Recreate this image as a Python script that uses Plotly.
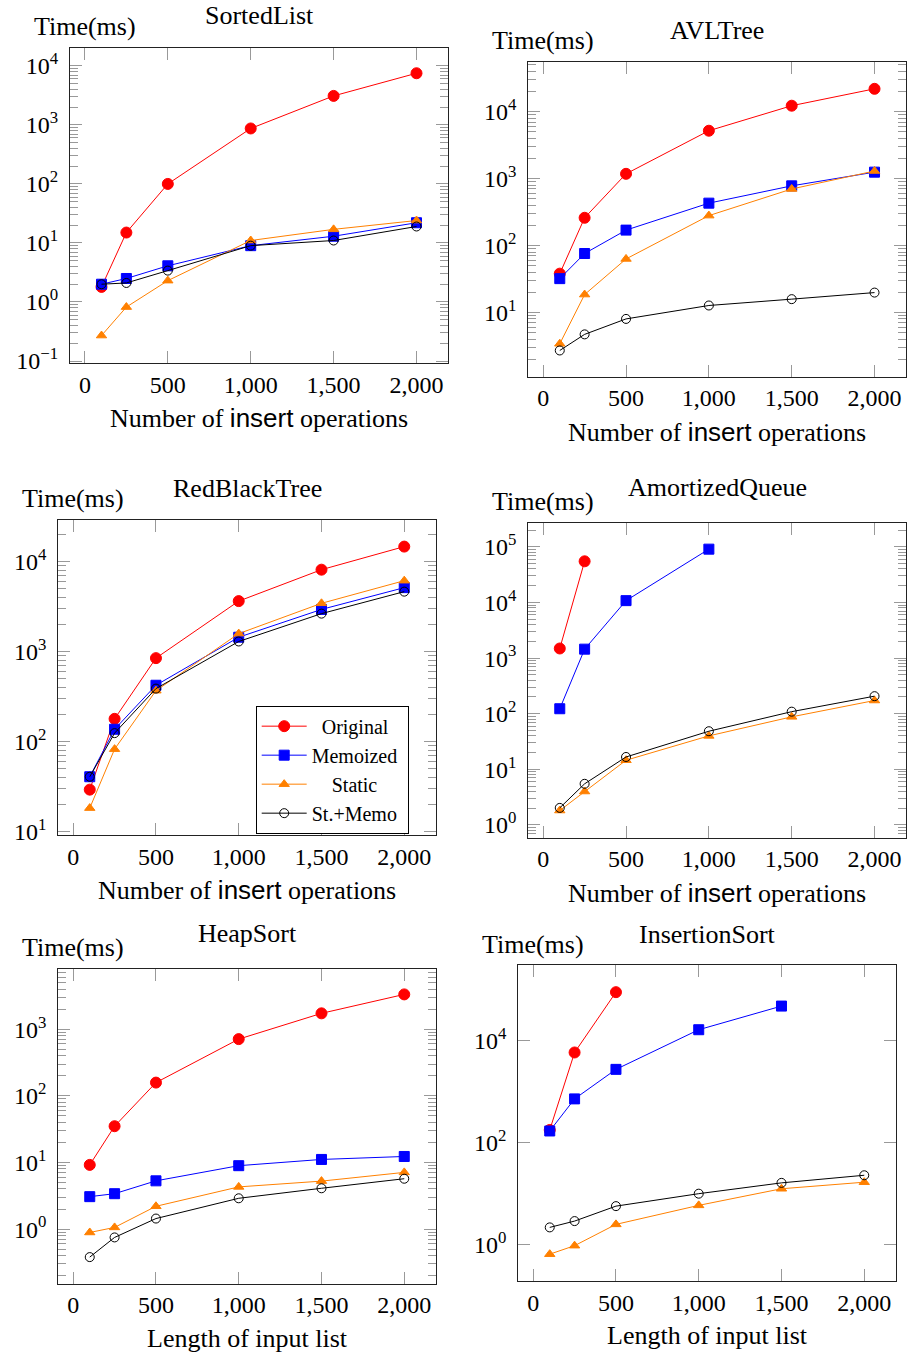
import math
import plotly.graph_objects as go

# ---------------- data ----------------
sizes = [100, 250, 500, 1000, 1500, 2000]
series_names = ["Original", "Memoized", "Static", "St.+Memo"]

# SortedList
sl_original = [1.8, 15, 100, 870, 3100, 7500]
sl_memoized = [2.0, 2.5, 4.1, 9.0, 13, 22]
sl_static = [0.27, 0.82, 2.3, 11, 17, 24]
sl_stmemo = [2.0, 2.1, 3.4, 9.0, 11, 19]

# AVLTree
avl_original = [38, 260, 1180, 5200, 12300, 22000]
avl_memoized = [32, 76, 170, 430, 780, 1250]
avl_static = [3.4, 18.5, 63, 280, 700, 1300]
avl_stmemo = [2.7, 4.7, 8.0, 12.7, 15.8, 19.8]

# RedBlackTree
rbt_original = [29.5, 180, 850, 3650, 8150, 14700]
rbt_memoized = [41, 138, 425, 1450, 2950, 5150]
rbt_static = [18.4, 83, 370, 1590, 3450, 6150]
rbt_stmemo = [41, 125, 390, 1300, 2650, 4650]

# AmortizedQueue
aq_original = [1490, 55000]
aq_memoized = [123, 1450, 10800, 91000]
aq_static = [1.82, 4.0, 14.6, 40, 88, 173]
aq_stmemo = [2.03, 5.5, 16.7, 48.5, 109, 207]

# HeapSort
hs_original = [9.2, 35, 158, 710, 1730, 3330]
hs_memoized = [3.07, 3.4, 5.3, 8.95, 11.1, 12.3]
hs_static = [0.89, 1.06, 2.2, 4.3, 5.25, 7.1]
hs_stmemo = [0.38, 0.75, 1.44, 2.9, 4.1, 5.7]

# InsertionSort
is_original = [178, 5900, 90000]
is_memoized = [170, 725, 2750, 16500, 48000]
is_static = [0.65, 0.955, 2.5, 5.9, 12.5, 16.8]
is_stmemo = [2.18, 2.9, 5.7, 10, 16.3, 23]

x_tickvals = [0, 500, 1000, 1500, 2000]
x_ticktext = ["0", "500", "1,000", "1,500", "2,000"]

# ---------------- styling ----------------
W, H = 907, 1364
SERIF = "Liberation Serif"
SANS = "Liberation Sans"
colors = ["#ff0000", "#0000ff", "#ff8000", "#000000"]
symbols = ["circle", "square", "triangle-up", "circle-open"]
msizes = [11, 10, 9, 9]
NB = "\u00a0"
legend_pad = [NB * 2, "", NB * 4, ""]

insert_label = ('Number of <span style="font-family:%s">insert</span> operations' % SANS)
length_label = "Length of input list"

panels = [
    dict(title="SortedList", xlabel=insert_label, box=(70, 48, 448, 366),
         yr=(-1.03, 4.31), dt=1, tshift=32,
         data=[sl_original, sl_memoized, sl_static, sl_stmemo]),
    dict(title="AVLTree", xlabel=insert_label, box=(528.3, 62.3, 906, 380),
         yr=(0.04, 4.747), dt=1, tshift=31,
         data=[avl_original, avl_memoized, avl_static, avl_stmemo]),
    dict(title="RedBlackTree", xlabel=insert_label, box=(58.3, 524.3, 435.7, 842.7),
         yr=(0.963, 4.466), dt=1, tshift=31,
         data=[rbt_original, rbt_memoized, rbt_static, rbt_stmemo]),
    dict(title="AmortizedQueue", xlabel=insert_label, box=(528.3, 527.3, 906, 845),
         yr=(-0.226, 5.435), dt=1, tshift=35,
         data=[aq_original, aq_memoized, aq_static, aq_stmemo]),
    dict(title="HeapSort", xlabel=length_label, box=(58.3, 977.3, 435.7, 1295),
         yr=(-0.818, 3.908), dt=1, tshift=35,
         data=[hs_original, hs_memoized, hs_static, hs_stmemo]),
    dict(title="InsertionSort", xlabel=length_label, box=(518.3, 974, 895.7, 1292.3),
         yr=(-0.712, 5.479), dt=2, tshift=31,
         data=[is_original, is_memoized, is_static, is_stmemo]),
]


def sup_label(k):
    return "10<sup>%s%d</sup>" % ("\u2212" if k < 0 else "", abs(k))


fig = go.Figure()
annotations = []
layout = {}

for i, p in enumerate(panels):
    n = i + 1
    xa = "x" if n == 1 else "x%d" % n
    ya = "y" if n == 1 else "y%d" % n
    x0, y0, x1, y1 = p["box"]
    xdom = [x0 / W, x1 / W]
    ydom = [1 - y1 / H, 1 - y0 / H]

    for s in range(4):
        vals = p["data"][s]
        fig.add_trace(go.Scatter(
            x=sizes[:len(vals)], y=vals, xaxis=xa, yaxis=ya,
            mode="lines+markers",
            name=legend_pad[s] + series_names[s] + NB,
            showlegend=(n == 3),
            line=dict(color=colors[s], width=1),
            marker=dict(symbol=symbols[s], size=msizes[s], color=colors[s],
                        line=dict(width=1, color=colors[s])),
        ))

    lo, hi = p["yr"]
    kmin, kmax = math.ceil(lo), math.floor(hi)
    majors = [k for k in range(kmin, kmax + 1) if k % p["dt"] == 0]
    minor_vals = []
    if p["dt"] == 1:
        for k in range(math.floor(lo), math.ceil(hi) + 1):
            for m in range(2, 10):
                v = m * 10 ** k
                if lo <= math.log10(v) <= hi:
                    minor_vals.append(v)

    xkey = "xaxis" if n == 1 else "xaxis%d" % n
    ykey = "yaxis" if n == 1 else "yaxis%d" % n
    layout[xkey] = dict(
        domain=xdom, anchor=ya, range=[-90, 2190],
        tickmode="array", tickvals=x_tickvals, ticktext=x_ticktext,
        ticks="inside", ticklen=12, tickwidth=1, tickcolor="#999",
        showline=True, linecolor="#222", linewidth=1, mirror="allticks",
        showgrid=False, zeroline=False,
        tickfont=dict(family=SERIF, size=24, color="black"),
    )
    ydict = dict(
        domain=ydom, anchor=xa, type="log", range=[lo, hi],
        tickmode="array", tickvals=[10 ** k for k in majors],
        ticktext=[sup_label(k) for k in majors],
        ticks="inside", ticklen=12, tickwidth=1, tickcolor="#999",
        showline=True, linecolor="#222", linewidth=1, mirror="allticks",
        showgrid=False, zeroline=False, ticklabelstandoff=6,
        tickfont=dict(family=SERIF, size=24, color="black"),
    )
    if minor_vals:
        ydict["minor"] = dict(tickmode="array", tickvals=minor_vals, ticks="inside",
                              ticklen=8, tickwidth=1, tickcolor="#999", showgrid=False)
    layout[ykey] = ydict

    annotations.append(dict(
        text=p["title"], xref="%s domain" % xa, yref="%s domain" % ya,
        x=0.5, y=1, yshift=p["tshift"], xanchor="center", yanchor="middle",
        showarrow=False, font=dict(family=SERIF, size=26, color="black")))
    annotations.append(dict(
        text="Time(ms)", xref=xa, yref="%s domain" % ya,
        x=0, y=1, yshift=21, xanchor="center", yanchor="middle",
        showarrow=False, font=dict(family=SERIF, size=26, color="black")))
    annotations.append(dict(
        text=p["xlabel"], xref="%s domain" % xa, yref="%s domain" % ya,
        x=0.5, y=0, yshift=-55, xanchor="center", yanchor="middle",
        showarrow=False, font=dict(family=SERIF, size=26, color="black")))

fig.update_layout(
    width=W, height=H,
    margin=dict(l=0, r=0, t=0, b=0),
    paper_bgcolor="white", plot_bgcolor="white",
    annotations=annotations,
    legend=dict(x=255.7 / W, y=1 - 776.5 / H, xanchor="left", yanchor="middle",
                bgcolor="white", bordercolor="black", borderwidth=1,
                font=dict(family=SERIF, size=20, color="black"),
                itemwidth=45, tracegroupgap=0),
    **layout,
)

fig.write_html("out.html", config={"displayModeBar": False},
               post_script="document.body.style.margin='0';document.body.style.overflow='hidden';")
